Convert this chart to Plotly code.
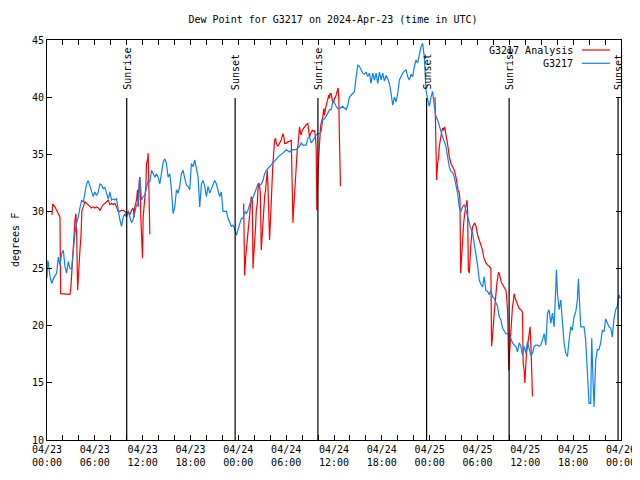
import pandas as pd
import plotly.graph_objects as go

START = "2024-04-23 00:00"
TITLE = "Dew Point for G3217 on 2024-Apr-23 (time in UTC)"
Y_TITLE = "degrees F"

# G3217 observations: hours after start, dew point (F)
t_blue = [0.0, 0.1, 0.17, 0.38, 0.59, 0.79, 1.0, 1.21, 1.42, 1.63, 1.84, 2.05, 2.25, 2.46, 2.67, 2.88, 3.09, 3.3, 3.51, 3.72,
          3.92, 4.13, 4.34, 4.55, 4.76, 4.97, 5.17, 5.38, 5.59, 5.8, 6.01, 6.22, 6.43, 6.64, 6.85, 7.05, 7.26, 7.47, 7.68, 7.89,
          8.1, 8.31, 8.52, 8.72, 8.93, 9.14, 9.35, 9.56, 9.77, 9.98, 10.19, 10.39, 10.6, 10.81, 11.02, 11.23, 11.44, 11.65, 11.86, 12.06,
          12.27, 12.48, 12.69, 12.9, 13.11, 13.32, 13.52, 13.73, 13.94, 14.15, 14.36, 14.57, 14.78, 14.98, 15.19, 15.4, 15.61, 15.82, 16.03, 16.24,
          16.45, 16.65, 16.86, 17.07, 17.28, 17.49, 17.7, 17.91, 18.11, 18.32, 18.53, 18.74, 18.95, 19.16, 19.37, 19.58, 19.79, 19.99, 20.2, 20.41,
          20.62, 20.83, 21.04, 21.25, 21.46, 21.66, 21.87, 22.08, 22.29, 22.5, 22.71, 22.92, 23.12, 23.33, 23.54, 23.75, 23.96, 24.17, 24.38, 24.58,
          24.79, 25.0, 25.21, 25.42, 25.63, 25.84, 26.05, 26.25, 26.46, 26.67, 26.88, 27.09, 27.3, 27.51, 27.92, 28.34, 28.76, 29.18, 29.59, 30.01,
          30.43, 30.85, 31.26, 31.68, 31.89, 32.1, 32.51, 32.72, 32.93, 33.14, 33.35, 33.56, 33.77, 33.98, 34.18, 34.39, 34.6, 34.81, 35.02, 35.23,
          35.44, 35.65, 35.85, 36.06, 36.27, 36.48, 36.69, 37.11, 37.52, 37.73, 37.94, 38.36, 38.57, 38.78, 38.99, 39.19, 39.4, 39.61, 39.82, 40.03,
          40.24, 40.45, 40.65, 40.86, 41.07, 41.28, 41.49, 41.7, 41.91, 42.11, 42.32, 42.53, 42.74, 42.95, 43.16, 43.37, 43.58, 43.79, 43.99, 44.2,
          44.62, 45.03, 45.24, 45.45, 45.66, 45.87, 46.08, 46.29, 46.5, 46.7, 46.91, 47.12, 47.33, 47.46, 47.54, 47.75, 47.96, 48.17, 48.37, 48.58,
          48.79, 49.0, 49.21, 49.42, 49.63, 49.83, 50.04, 50.25, 50.46, 50.67, 50.88, 51.09, 51.3, 51.5, 51.71, 51.92, 52.13, 52.34, 52.55, 52.76,
          52.97, 53.17, 53.38, 53.59, 53.8, 54.01, 54.22, 54.43, 54.64, 54.84, 55.05, 55.26, 55.47, 55.68, 55.89, 56.1, 56.31, 56.51, 56.72, 56.93,
          57.14, 57.35, 57.56, 57.77, 57.97, 58.18, 58.39, 58.6, 58.81, 59.02, 59.23, 59.44, 59.64, 59.85, 60.06, 60.27, 60.48, 60.69, 60.9, 61.11,
          61.31, 61.52, 61.73, 61.94, 62.15, 62.36, 62.57, 62.78, 62.98, 63.19, 63.4, 63.61, 63.82, 63.9, 64.03, 64.24, 64.44, 64.65, 64.86, 65.07,
          65.28, 65.49, 65.7, 65.9, 66.11, 66.32, 66.53, 66.66, 66.74, 66.95, 67.16, 67.37, 67.57, 67.78, 67.99, 68.2, 68.33, 68.49, 68.62, 68.83,
          69.04, 69.24, 69.45, 69.66, 69.87, 70.08, 70.29, 70.5, 70.71, 70.91, 71.12, 71.33, 71.54, 71.75, 71.9]
v_blue = [24.2, 25.7, 25.5, 24.3, 23.7, 24.1, 24.3, 24.6, 26.0, 25.3, 26.3, 26.6, 25.2, 24.6, 25.6, 25.0, 25.0, 26.9, 28.1, 29.0,
          29.5, 30.3, 31.0, 30.8, 31.6, 32.4, 32.7, 32.2, 31.9, 31.3, 31.7, 31.4, 31.7, 32.4, 32.3, 32.0, 32.1, 31.6, 31.1, 31.7,
          31.0, 31.1, 31.0, 31.1, 30.1, 29.25, 28.7, 29.5, 29.8, 29.5, 30.0, 29.4, 29.0, 29.3, 30.1, 30.6, 30.7, 33.0, 31.0, 31.3,
          31.4, 32.0, 32.7, 32.6, 33.6, 33.3, 33.0, 33.3, 33.0, 32.4, 33.5, 34.3, 34.6, 34.2, 33.0, 33.3, 31.9, 29.8, 30.4, 31.9,
          31.6, 32.2, 33.3, 33.6, 32.9, 32.3, 32.2, 31.9, 34.2, 33.9, 34.5, 33.6, 33.0, 30.4, 32.4, 32.7, 32.2, 31.3, 32.2, 31.6,
          32.0, 32.4, 32.7, 32.4, 31.9, 31.3, 31.7, 30.0, 30.0, 30.0, 29.4, 29.0, 28.7, 28.8, 28.5, 27.9, 28.4, 28.7, 29.4, 29.4,
          30.0, 29.8, 30.1, 30.6, 31.0, 31.2, 31.6, 32.0, 32.4, 32.3, 32.4, 32.7, 33.3, 33.6, 33.9, 34.2, 34.6, 34.9, 35.1, 35.4,
          35.2, 35.4, 35.4, 35.7, 36.0, 35.8, 35.8, 36.4, 36.5, 36.0, 36.2, 36.5, 36.7, 36.8, 36.8, 37.0, 38.0, 38.1, 38.3, 38.6,
          38.9, 38.9, 39.6, 39.5, 39.2, 39.0, 39.0, 39.2, 38.9, 39.3, 40.0, 40.3, 40.5, 41.8, 42.8, 42.7, 42.4, 42.1, 42.0, 42.2,
          41.8, 42.1, 41.2, 42.1, 41.5, 42.1, 41.2, 42.2, 41.5, 42.1, 41.4, 41.9, 41.6, 41.2, 40.3, 39.3, 40.0, 39.6, 40.3, 41.5,
          42.1, 42.4, 41.8, 41.5, 42.0, 41.8, 42.7, 43.25, 43.0, 43.7, 44.4, 44.7, 43.5, 41.8, 40.6, 39.8, 39.2, 40.0, 40.5, 39.2,
          38.3, 38.0, 37.4, 37.0, 36.5, 36.0, 35.7, 34.8, 33.9, 33.5, 33.4, 33.0, 32.3, 31.6, 30.4, 30.0, 30.4, 30.6, 30.1, 29.5,
          29.0, 28.5, 28.1, 27.2, 26.3, 25.3, 24.0, 23.6, 23.4, 24.3, 23.1, 23.0, 22.7, 23.1, 22.5, 22.4, 22.0, 21.7, 20.8, 20.5,
          19.8, 19.6, 19.3, 19.3, 19.2, 18.9, 18.5, 18.3, 18.2, 17.7, 18.5, 18.2, 17.4, 18.2, 17.6, 18.6, 18.0, 17.4, 17.6, 18.2,
          18.3, 18.3, 18.2, 18.3, 18.75, 19.3, 18.3, 21.1, 21.4, 20.2, 21.1, 19.9, 23.4, 24.9, 22.8, 21.4, 22.25, 20.5, 18.5, 17.6,
          17.3, 18.75, 19.9, 19.6, 20.8, 21.2, 22.25, 24.1, 23.1, 19.9, 19.9, 19.9, 18.75, 15.8, 13.2, 13.2, 18.9, 15.25, 12.9, 17.0,
          17.9, 17.9, 18.5, 19.6, 19.5, 20.6, 20.2, 19.9, 19.8, 19.0, 20.6, 21.4, 21.7, 22.7, 22.4]

# G3217 Analysis: hours after start, dew point (F); None = no data
t_red = [0.63, 0.71, 1.0, 1.21, 1.42, 1.63, 1.71, 2.05, 2.46, 2.88, 3.0, 3.09, 3.3, 3.42, 3.51, 3.63, 3.72, 3.84, 3.97, 4.13,
         4.26, 4.38, 4.55, 4.76, 4.97, 5.38, 5.59, 5.8, 6.01, 6.22, 6.43, 6.64, 6.85, 7.05, 7.26, 7.47, 7.68, 7.89, 8.1, 8.31,
         8.52, 8.72, 8.93, 9.14, 9.35, 9.56, 9.77, 9.98, 10.19, 10.39, 10.6, 10.81, 10.94, 11.02, 11.23, 11.35, 11.44, 11.56, 11.65, 11.77,
         11.86, 11.98, 12.06, 12.19, 12.31, 12.4, 12.48, 12.61, 12.69, 12.81, 12.9, 13.0,
         24.67, 24.79, 24.92, 25.09, 25.21, 25.34, 25.42, 25.54, 25.63, 25.75, 25.84, 25.92, 26.05, 26.17, 26.25, 26.38, 26.46, 26.59, 26.67, 26.76,
         26.88, 27.01, 27.09, 27.21, 27.3, 27.42, 27.51, 27.63, 27.72, 27.84, 27.92, 28.05, 28.13, 28.26, 28.34, 28.47, 28.55, 28.68, 28.76, 28.97,
         29.18, 29.38, 29.59, 29.72, 29.8, 30.01, 30.22, 30.43, 30.64, 30.72, 30.85, 30.93, 31.05, 31.18, 31.26, 31.39, 31.47, 31.6, 31.68, 31.81,
         31.89, 32.01, 32.18, 32.31, 32.52, 32.72, 32.85, 32.93, 33.06, 33.27, 33.43, 33.56, 33.68, 33.77, 33.85, 33.93, 34.02, 34.1, 34.19, 34.31,
         34.39, 34.6, 34.72, 34.81, 34.93, 35.02, 35.14, 35.27, 35.35, 35.43, 35.52, 35.64, 35.77, 35.85, 35.98, 36.06, 36.19, 36.27, 36.39, 36.52,
         36.6, 36.69, 36.81, 37.0,
         48.67, 48.71, 48.79, 48.87, 49.0, 49.13, 49.21, 49.33, 49.42, 49.54, 49.63, 49.75, 49.88, 50.04, 50.17, 50.29, 50.46, 50.67, 50.88, 51.09,
         51.3, 51.42, 51.55, 51.72, 51.8, 51.89, 51.97, 52.05, 52.14, 52.26, 52.39, 52.55, 52.68, 52.76, 52.85, 52.97, 53.05, 53.18, 53.3, 53.39,
         53.51, 53.64, 53.81, 53.93, 54.06, 54.22, 54.35, 54.47, 54.64, 54.77, 54.89, 55.06, 55.27, 55.48, 55.68, 55.76, 55.85, 55.93, 56.1, 56.22,
         56.3, 56.43, 56.55, 56.64, 56.72, 56.85, 56.97, 57.14, 57.26, 57.39, 57.56, 57.64, 57.77, 57.85, 57.93, 58.02, 58.1, 58.22, 58.31, 58.39,
         58.52, 58.6, 58.68, 58.81, 58.93, 59.06, 59.23, 59.44, 59.64, 59.73, 59.85, 59.94, 60.02, 60.14, 60.27, 60.4, 60.52, 60.6, 60.69, 60.81,
         60.9]
v_red = [29.7, 30.65, 30.4, 30.1, 29.8, 29.5, 22.8, 22.8, 22.75, 22.75, 23.4, 24.6, 26.9, 28.1, 29.25, 29.8, 28.1, 23.1, 25.2, 26.6,
         27.8, 30.1, 30.4, 30.85, 30.7, 30.4, 30.3, 30.4, 30.3, 30.4, 30.3, 30.1, 30.4, 30.6, 30.7, 30.85, 31.0, 30.6, 30.7, 30.6,
         30.7, 30.4, 30.0, 30.0, 30.1, 30.1, 30.0, 29.8, 30.0, 29.7, 30.1, 30.3, 29.5, 30.4, 31.0, 31.9, 30.4, 32.6, 33.0, 29.5,
         28.1, 25.9, 29.5, 30.7, 31.3, 32.2, 34.2, 34.5, 35.1, 29.5, 28.0, None,
         30.7, 24.4, 26.0, 27.2, 28.4, 29.25, 29.8, 30.7, 31.3, 31.0, 25.0, 26.0, 27.2, 28.7, 30.1, 30.7, 31.9, 32.5, 32.2, 31.6,
         26.6, 28.4, 29.25, 30.4, 31.3, 31.9, 32.75, 33.6, 32.2, 28.4, 27.5, 29.5, 31.6, 33.0, 34.2, 35.1, 36.25, 36.4, 35.96, 35.7,
         36.0, 36.25, 36.8, 36.5, 35.96, 35.96, 36.1, 36.1, 36.25, 32.75, 29.0, 30.1, 31.6, 33.0, 34.5, 35.4, 35.7, 36.5, 37.4, 36.8,
         36.7, 37.1, 37.3, 37.4, 37.6, 37.7, 36.8, 36.5, 36.8, 37.1, 37.0, 37.1, 36.5, 35.4, 30.1, 33.0, 33.6, 34.9, 36.5, 37.4,
         37.7, 38.3, 39.0, 38.4, 39.0, 39.3, 39.6, 39.9, 40.2, 39.9, 40.3, 40.3, 39.9, 39.5, 39.6, 39.9, 40.0, 40.3, 40.5, 40.8,
         39.9, 36.1, 32.2, None,
         40.0, 38.3, 36.5, 32.75, 34.2, 34.8, 35.7, 36.25, 36.8, 37.1, 37.3, 37.1, 37.4, 36.8, 36.25, 35.7, 34.8, 34.2, 33.9, 33.6,
         33.0, 32.4, 31.9, 31.6, 31.0, 24.6, 25.75, 26.9, 28.1, 28.95, 29.8, 30.4, 31.0, 30.1, 24.9, 24.6, 26.0, 27.2, 28.1, 28.7,
         28.8, 29.0, 28.7, 28.1, 27.8, 27.5, 27.2, 26.9, 26.6, 26.0, 25.75, 25.5, 25.3, 25.2, 25.0, 18.2, 18.75, 19.9, 21.1, 22.0,
         22.8, 23.7, 24.3, 24.7, 24.6, 24.1, 23.85, 23.6, 23.4, 23.3, 23.1, 22.7, 21.4, 17.9, 16.1, 17.6, 18.75, 19.9, 21.1, 21.7,
         22.25, 22.8, 22.5, 22.25, 21.95, 21.7, 21.5, 21.4, 21.2, 16.7, 16.1, 15.0, 16.4, 17.6, 18.2, 18.75, 19.3, 19.9, 18.5, 15.25,
         13.8]

sun_times = ["2024-04-23 10:00", "2024-04-23 23:36", "2024-04-24 09:59",
             "2024-04-24 23:37", "2024-04-25 09:58", "2024-04-25 23:38"]
sun_labels = ["Sunrise", "Sunset", "Sunrise", "Sunset", "Sunrise", "Sunset"]

tick_times = pd.date_range(START, periods=13, freq="6h")
tick_text = [f"{t:%m/%d}<br>{t:%H:%M}" for t in tick_times]
y_ticks = [10, 15, 20, 25, 30, 35, 40, 45]

series_names = ["G3217 Analysis", "G3217"]
series_colors = ["#ff0000", "#0a80ff"]

start = pd.Timestamp(START)
x_blue = [start + pd.Timedelta(hours=h) for h in t_blue]
x_red = [start + pd.Timedelta(hours=h) for h in t_red]

FONT = "DejaVu Sans Mono"
OFF = 8  # page body margin in the browser
W, H = 640 - OFF, 480 - OFF
L, T = 47 - OFF, 40 - OFF          # plot area left/top in page px: 47, 40
PR, PB = 621 - OFF, 440 - OFF      # plot area right/bottom in page px: 621, 440
R, B = W - PR, H - PB
PW, PH = PR - L, PB - T

def px(x):  # page x -> paper
    return (x - OFF - L) / PW

def py(y):  # page y -> paper
    return (PB - (y - OFF)) / PH

fig = go.Figure()
fig.add_trace(go.Scatter(x=x_red, y=v_red, mode="lines", name=series_names[0],
                         line=dict(color=series_colors[0], width=1.2), connectgaps=False))
fig.add_trace(go.Scatter(x=x_blue, y=v_blue, mode="lines", name=series_names[1],
                         line=dict(color=series_colors[1], width=1.2)))

shapes = []
annotations = []
for st, lab in zip(sun_times, sun_labels):
    shapes.append(dict(type="line", xref="x", yref="paper", x0=st, x1=st,
                       y0=0, y1=py(98), line=dict(color="black", width=1.2)))
    annotations.append(dict(x=st, y=py(92), xref="x", yref="paper", text=lab,
                            textangle=-90, showarrow=False, xanchor="center", yanchor="bottom",
                            font=dict(family=FONT, size=10, color="black")))

# gnuplot-style legend (text right, sample line after)
for i, (nm, col) in enumerate(zip(series_names, series_colors)):
    yy = 50 + i * 13.3
    annotations.append(dict(x=px(575), y=py(yy), xref="paper", yref="paper", text=nm,
                            showarrow=False, xanchor="right", yanchor="middle",
                            font=dict(family=FONT, size=10, color="black")))
    shapes.append(dict(type="line", xref="paper", yref="paper", x0=px(582), x1=px(610),
                       y0=py(yy), y1=py(yy), line=dict(color=col, width=1.2)))

annotations.append(dict(x=px(15), y=0.5, xref="paper", yref="paper", text=Y_TITLE,
                        textangle=-90, showarrow=False, xanchor="center", yanchor="middle",
                        font=dict(family=FONT, size=10, color="black")))

fig.update_layout(
    width=W, height=H,
    margin=dict(l=L, r=R, t=T, b=B, autoexpand=False),
    paper_bgcolor="white", plot_bgcolor="white",
    showlegend=False,
    title=dict(text=TITLE, x=px(333), xref="paper", xanchor="center",
               y=1 - (19 - OFF) / H, yanchor="middle",
               font=dict(family=FONT, size=10, color="black")),
    font=dict(family=FONT, size=10, color="black"),
    shapes=shapes, annotations=annotations,
    xaxis=dict(range=[start, start + pd.Timedelta(hours=72)], tickvals=list(tick_times), ticktext=tick_text,
               ticks="inside", ticklen=5, tickcolor="black", showline=True, linecolor="black", linewidth=1,
               mirror="ticks", showgrid=False, zeroline=False, automargin=False,
               minor=dict(ticks="inside", ticklen=5, tickcolor="black", dtick=2 * 3600 * 1000, tick0=START, showgrid=False),
               tickfont=dict(family=FONT, size=10)),
    yaxis=dict(range=[10, 45], tickvals=y_ticks, ticks="inside", ticklen=5, tickcolor="black",
               showline=True, linecolor="black", linewidth=1, mirror="ticks", showgrid=False, zeroline=False,
               automargin=False, tickfont=dict(family=FONT, size=10)),
)

fig.write_html("out.html")
